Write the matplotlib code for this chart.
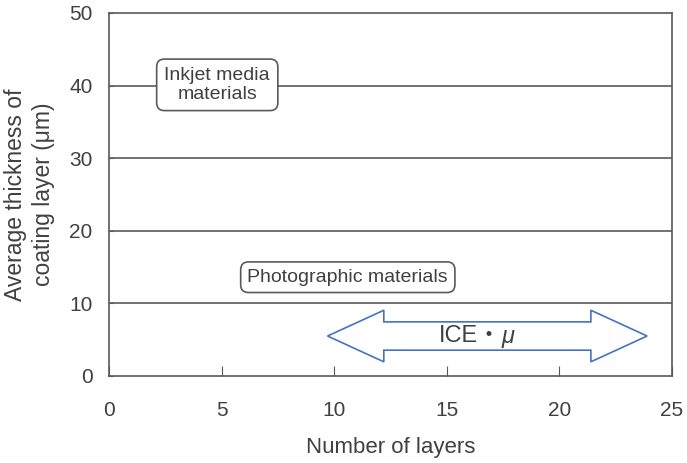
import matplotlib.pyplot as plt
from matplotlib.patches import Polygon

plt.rcParams['font.family'] = ['Liberation Sans', 'Noto Sans CJK JP', 'DejaVu Sans']

x_ticks = [0, 5, 10, 15, 20, 25]
y_ticks = [0, 10, 20, 30, 40, 50]
grid_levels = [10, 20, 30, 40]

inkjet_label = "Inkjet media\nmaterials"
inkjet_pos = (4.8, 40.1)
photo_label = "Photographic materials"
photo_pos = (10.6, 13.6)

ice_range = (9.7, 23.9)
ice_level = 5.5
ice_head_len = 2.5
ice_body_half = 1.95
ice_head_half = 3.55

gray = '#595959'
txt = '#404040'
blue = '#4472C4'

fig = plt.figure(figsize=(6.87, 4.63), dpi=100)
ax = fig.add_axes([0.159, 0.188, 0.819, 0.784])
ax.set_xlim(0, 25)
ax.set_ylim(0, 50)
ax.set_xticks(x_ticks)
ax.set_yticks(y_ticks)
ax.tick_params(axis='x', direction='in', length=7, color=gray, pad=18, labelsize=15, labelcolor=txt)
ax.tick_params(axis='y', direction='in', length=3, color=gray, pad=12, labelsize=15, labelcolor=txt)
for s in ax.spines.values():
    s.set_color(gray)
    s.set_linewidth(1.2)
for g in grid_levels:
    ax.axhline(g, color=gray, lw=1.2, zorder=1)

ax.set_xlabel("Number of layers", fontsize=16, color=txt, labelpad=12)
ax.set_ylabel("Average thickness of\ncoating layer (μm)", fontsize=16.5, color=txt, labelpad=10, linespacing=1.3)

box = dict(boxstyle='round,pad=0.4,rounding_size=0.4', fc='white', ec=gray, lw=1.2)
ax.text(*inkjet_pos, inkjet_label, ha='center', va='center', fontsize=14, color=txt,
        bbox=box, zorder=3, linespacing=1.15)
ax.text(*photo_pos, photo_label, ha='center', va='center', fontsize=14, color=txt,
        bbox=dict(box, boxstyle='round,pad=0.35,rounding_size=0.4'), zorder=3)

x0, x1 = ice_range
y = ice_level
pts = [(x0, y), (x0 + ice_head_len, y + ice_head_half), (x0 + ice_head_len, y + ice_body_half),
       (x1 - ice_head_len, y + ice_body_half), (x1 - ice_head_len, y + ice_head_half), (x1, y),
       (x1 - ice_head_len, y - ice_head_half), (x1 - ice_head_len, y - ice_body_half),
       (x0 + ice_head_len, y - ice_body_half), (x0 + ice_head_len, y - ice_head_half)]
ax.add_patch(Polygon(pts, closed=True, fc='white', ec=blue, lw=1.2, zorder=3))
mid = 17.45
ax.text(mid, y, "ICE・", ha='right', va='center', fontsize=17, color=txt, zorder=4)
ax.text(mid, y, "μ", ha='left', va='center', fontsize=17, color=txt, style='italic', zorder=4)

fig.savefig('out.png')
